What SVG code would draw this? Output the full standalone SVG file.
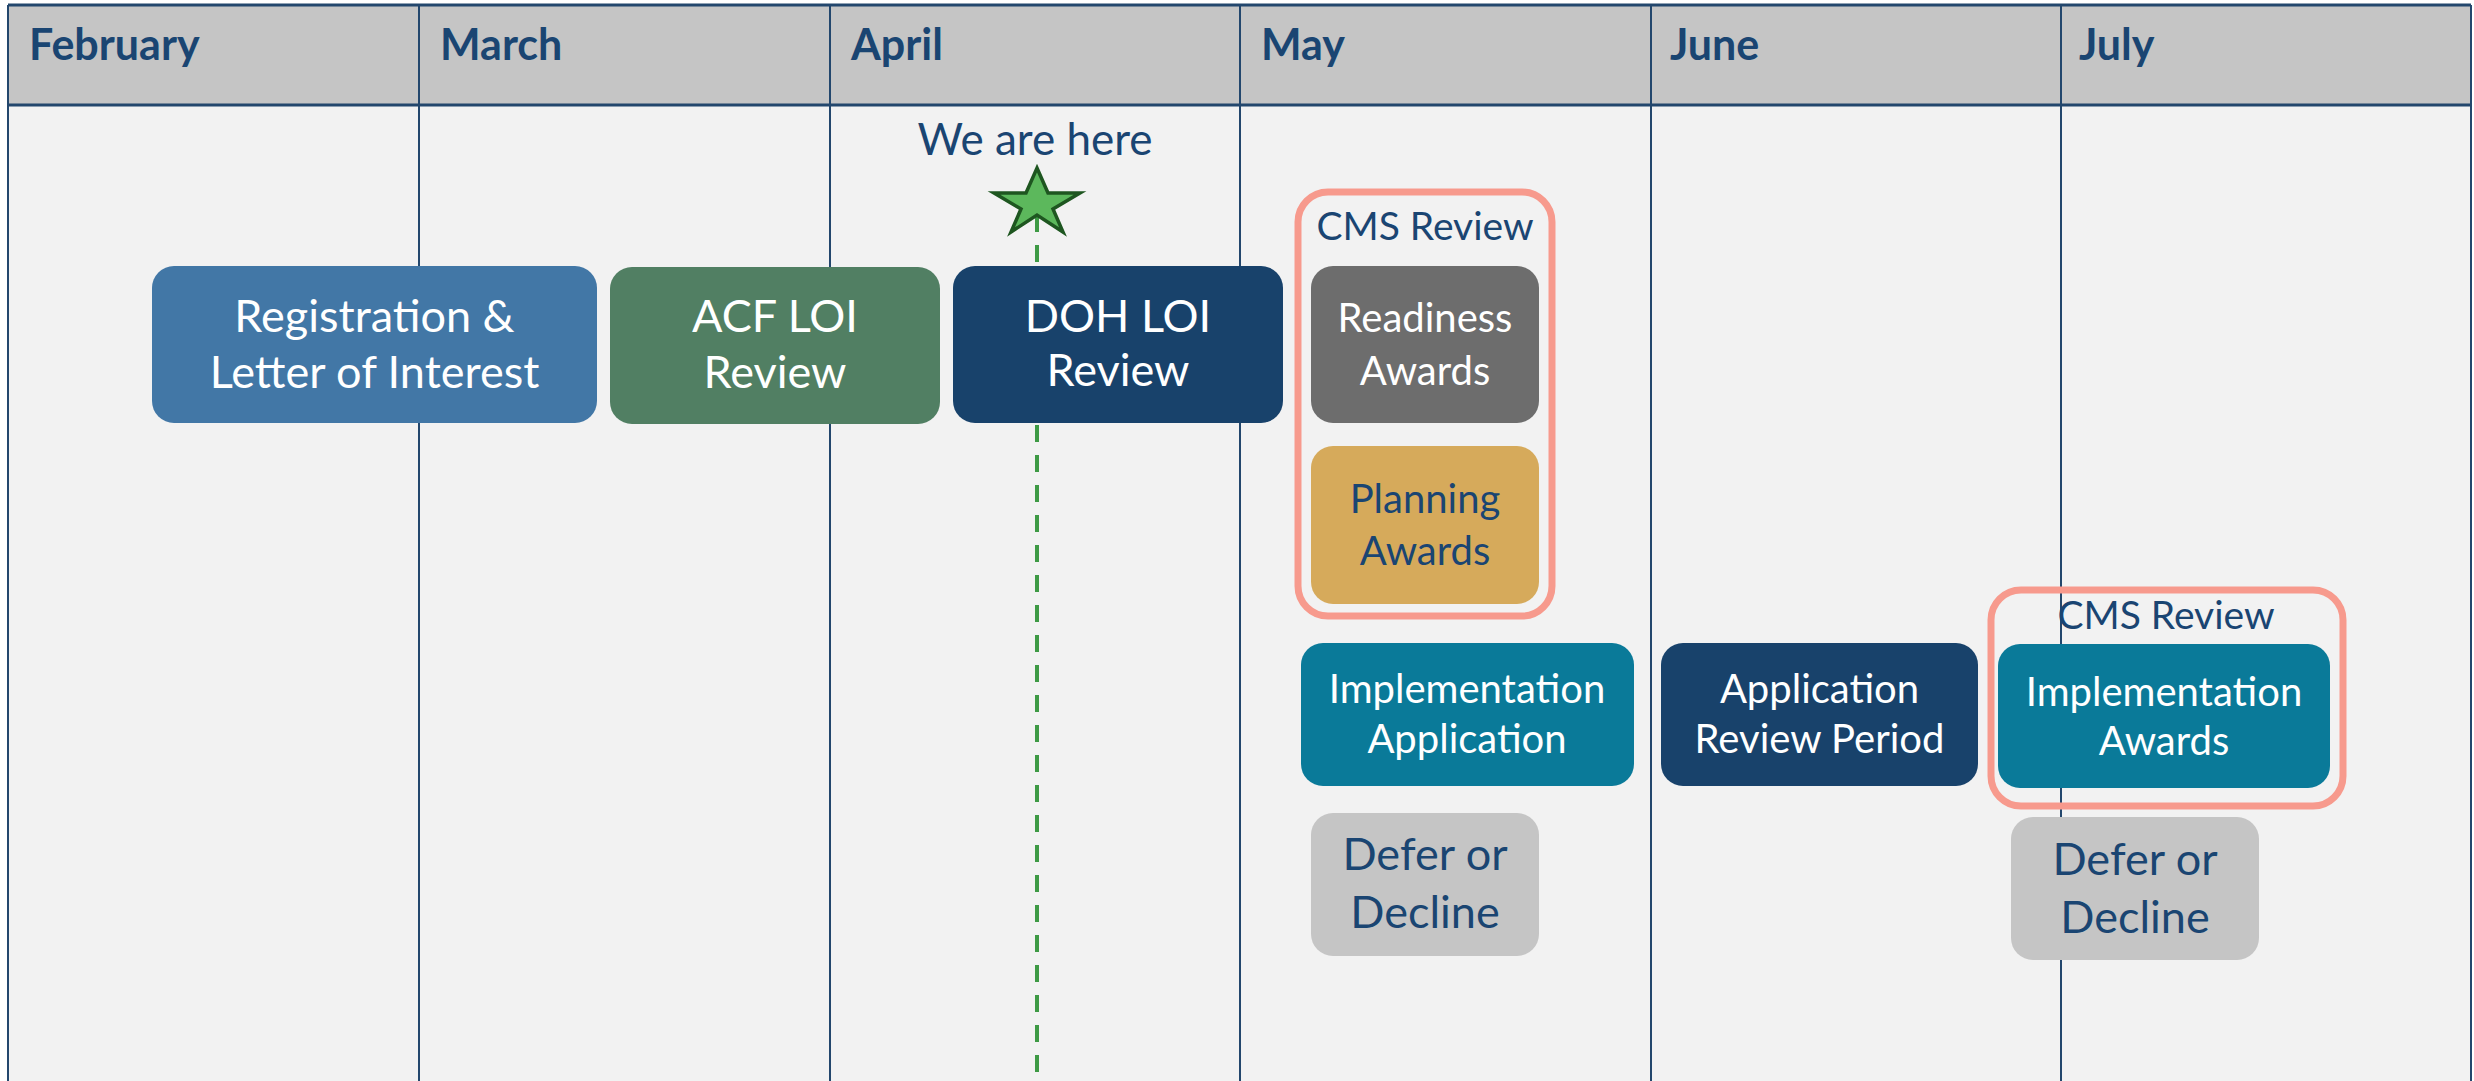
<svg xmlns="http://www.w3.org/2000/svg" width="2474" height="1081" viewBox="0 0 2474 1081">
<style>
.grid{stroke:#23476D;fill:none}
.month{font-family:Lato,"Liberation Sans",sans-serif;font-weight:bold;font-size:43px;fill:#1A4572}
.t{font-family:Lato,"Liberation Sans",sans-serif;text-anchor:middle}
.w45{font-size:45px;fill:#FFFFFF}
.w40{font-size:40px;fill:#FFFFFF}
.b40{font-size:40px;fill:#1A4572}
.b45{font-size:45px;fill:#1A4572}
.b39{font-size:39px;fill:#1A4572}
.b44{font-size:44px;fill:#1A4572}
.outline{fill:none;stroke:#F79A8D;stroke-width:7}
</style>
<rect x="0" y="0" width="2474" height="1081" fill="#FFFFFF"/>
<g id="grid">
<rect x="8" y="105" width="2463" height="976" fill="#F2F2F2"/>
<rect x="8" y="5" width="2463" height="100" fill="#C5C5C5"/>
<line class="grid" x1="8" y1="5" x2="2471" y2="5" stroke-width="3"/>
<line class="grid" x1="8" y1="105" x2="2471" y2="105" stroke-width="3"/>
<line class="grid" x1="8" y1="5" x2="8" y2="1081" stroke-width="2"/>
<line class="grid" x1="419" y1="5" x2="419" y2="1081" stroke-width="2"/>
<line class="grid" x1="830" y1="5" x2="830" y2="1081" stroke-width="2"/>
<line class="grid" x1="1240" y1="5" x2="1240" y2="1081" stroke-width="2"/>
<line class="grid" x1="1651" y1="5" x2="1651" y2="1081" stroke-width="2"/>
<line class="grid" x1="2061" y1="5" x2="2061" y2="1081" stroke-width="2"/>
<line class="grid" x1="2471" y1="5" x2="2471" y2="1081" stroke-width="2"/>
<text class="month" x="29" y="60">February</text>
<text class="month" x="440" y="60">March</text>
<text class="month" x="851" y="60">April</text>
<text class="month" x="1261" y="60">May</text>
<text class="month" x="1670" y="60">June</text>
<text class="month" x="2079" y="60">July</text>
</g>
<g id="connectors">
<line x1="1037" y1="215" x2="1037" y2="1081" stroke="#3E9A45" stroke-width="4" stroke-dasharray="17 13"/>
</g>
<g id="we-are-here">
<text class="t b44" x="1035" y="155">We are here</text>
<polygon points="1037,168 1048,193 1080,193 1053,209 1063,232 1037,215 1011,232 1021,209 994,193 1026,193" fill="#5CB85C" stroke="#1E5620" stroke-width="3.5" stroke-linejoin="miter"/>
</g>
<g id="registration">
<rect x="152" y="266" width="445" height="157" rx="22" fill="#4277A6"/>
<text class="t w45" x="374.5" y="332">Registration &amp;</text>
<text class="t w45" x="374.5" y="388">Letter of Interest</text>
</g>
<g id="acf-loi-review">
<rect x="610" y="267" width="330" height="157" rx="22" fill="#517F63"/>
<text class="t w45" x="775" y="332">ACF LOI</text>
<text class="t w45" x="775" y="388">Review</text>
</g>
<g id="doh-loi-review">
<rect x="953" y="266" width="330" height="157" rx="22" fill="#18426B"/>
<text class="t w45" x="1118" y="332">DOH LOI</text>
<text class="t w45" x="1118" y="386">Review</text>
</g>
<g id="cms-review-may">
<rect class="outline" x="1298" y="192" width="254" height="424" rx="30"/>
<text class="t b39" x="1425" y="240">CMS Review</text>
</g>
<g id="readiness-awards">
<rect x="1311" y="266" width="228" height="157" rx="22" fill="#6D6D6D"/>
<text class="t w40" x="1425" y="332">Readiness</text>
<text class="t w40" x="1425" y="385">Awards</text>
</g>
<g id="planning-awards">
<rect x="1311" y="446" width="228" height="158" rx="22" fill="#D6AA5B"/>
<text class="t b40" x="1425" y="513">Planning</text>
<text class="t b40" x="1425" y="565">Awards</text>
</g>
<g id="implementation-application">
<rect x="1301" y="643" width="333" height="143" rx="22" fill="#0A7A99"/>
<text class="t w40" x="1467" y="703">Implementation</text>
<text class="t w40" x="1467" y="753">Application</text>
</g>
<g id="application-review-period">
<rect x="1661" y="643" width="317" height="143" rx="22" fill="#18426B"/>
<text class="t w40" x="1819.5" y="703">Application</text>
<text class="t w40" x="1819.5" y="753">Review Period</text>
</g>
<g id="cms-review-july">
<rect class="outline" x="1991" y="590" width="352" height="216" rx="30"/>
<text class="t b39" x="2166" y="629">CMS Review</text>
</g>
<g id="implementation-awards">
<rect x="1998" y="644" width="332" height="144" rx="22" fill="#0A7A99"/>
<text class="t w40" x="2164" y="706">Implementation</text>
<text class="t w40" x="2164" y="755">Awards</text>
</g>
<g id="defer-decline-may">
<rect x="1311" y="813" width="228" height="143" rx="22" fill="#C5C5C5"/>
<text class="t b45" x="1425" y="870">Defer or</text>
<text class="t b45" x="1425" y="928">Decline</text>
</g>
<g id="defer-decline-july">
<rect x="2011" y="817" width="248" height="143" rx="22" fill="#C5C5C5"/>
<text class="t b45" x="2135" y="875">Defer or</text>
<text class="t b45" x="2135" y="933">Decline</text>
</g>
</svg>
